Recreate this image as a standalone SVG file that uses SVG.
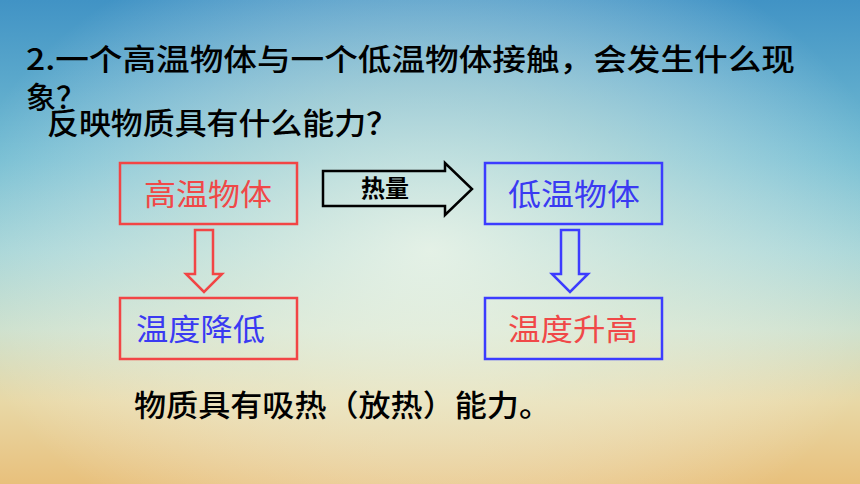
<svg xmlns="http://www.w3.org/2000/svg" width="860" height="484" viewBox="0 0 860 484">
<defs>
<linearGradient id="bg" x1="0" y1="0" x2="0" y2="1">
<stop offset="0" stop-color="#4193c5"/>
<stop offset="0.33" stop-color="#74bdd2"/>
<stop offset="0.52" stop-color="#a4d4d6"/>
<stop offset="0.68" stop-color="#cbdfcb"/>
<stop offset="0.83" stop-color="#e8d8a6"/>
<stop offset="1" stop-color="#e8c07c"/>
</linearGradient>
<radialGradient id="glow" cx="430" cy="250" r="480" gradientUnits="userSpaceOnUse" gradientTransform="translate(430 250) scale(1 0.7) translate(-430 -250)">
<stop offset="0" stop-color="#f4f8ea" stop-opacity="0.8"/>
<stop offset="0.5" stop-color="#eef4e4" stop-opacity="0.45"/>
<stop offset="1" stop-color="#ffffff" stop-opacity="0"/>
</radialGradient>
<style>
.t{font-family:"Noto Sans CJK SC","Noto Sans CJK TC",sans-serif;}
.h{font-size:30px;font-weight:500;fill:#000;}
.bx{fill:none;stroke-width:2.5;}
.red{stroke:#f24545;}
.blue{stroke:#3c3cff;}
.bt{font-size:30px;font-weight:normal;}
.rt{fill:#f04848;}
.btx{fill:#3a3af2;}
</style>
</defs>
<rect x="0" y="0" width="860" height="484" fill="url(#bg)"/>
<rect x="0" y="0" width="860" height="484" fill="url(#glow)"/>
<g id="title">
<text class="t h" x="26" y="70" textLength="769" lengthAdjust="spacingAndGlyphs">2.一个高温物体与一个低温物体接触，会发生什么现</text>
<text class="t h" y="108"><tspan x="26">象</tspan><tspan x="56">？</tspan></text>
<text class="t h" x="47" y="134" textLength="351" lengthAdjust="spacingAndGlyphs">反映物质具有什么能力？</text>
</g>
<g id="connectors">
<polygon points="323,171 445,171 445,163 472,189 445,215 445,206 323,206" fill="none" stroke="#000" stroke-width="2.5" stroke-linejoin="miter"/>
<text class="t" x="385" y="197" font-size="24" font-weight="bold" text-anchor="middle" fill="#000">热量</text>
<polygon points="195,230 213,230 213,274 222,274 204,292 186,274 195,274" fill="none" stroke="#f24545" stroke-width="2.5"/>
<polygon points="561,230 579,230 579,274 588,274 570,292 552,274 561,274" fill="none" stroke="#3c3cff" stroke-width="2.5"/>
</g>
<g id="node-high">
<rect class="bx red" x="120" y="163" width="177" height="61"/>
<text class="t bt rt" x="144" y="205" textLength="128" lengthAdjust="spacingAndGlyphs">高温物体</text>
</g>
<g id="node-low">
<rect class="bx blue" x="485" y="163" width="177" height="61"/>
<text class="t bt btx" x="508" y="205" textLength="132" lengthAdjust="spacingAndGlyphs">低温物体</text>
</g>
<g id="node-drop">
<rect class="bx red" x="120" y="298" width="177" height="61"/>
<text class="t bt btx" x="136" y="340" textLength="129" lengthAdjust="spacingAndGlyphs">温度降低</text>
</g>
<g id="node-rise">
<rect class="bx blue" x="485" y="298" width="177" height="61"/>
<text class="t bt rt" x="508" y="340" textLength="130" lengthAdjust="spacingAndGlyphs">温度升高</text>
</g>
<g id="conclusion">
<text class="t h" x="134" y="416" font-size="31" textLength="417" lengthAdjust="spacingAndGlyphs">物质具有吸热（放热）能力。</text>
</g>
</svg>
